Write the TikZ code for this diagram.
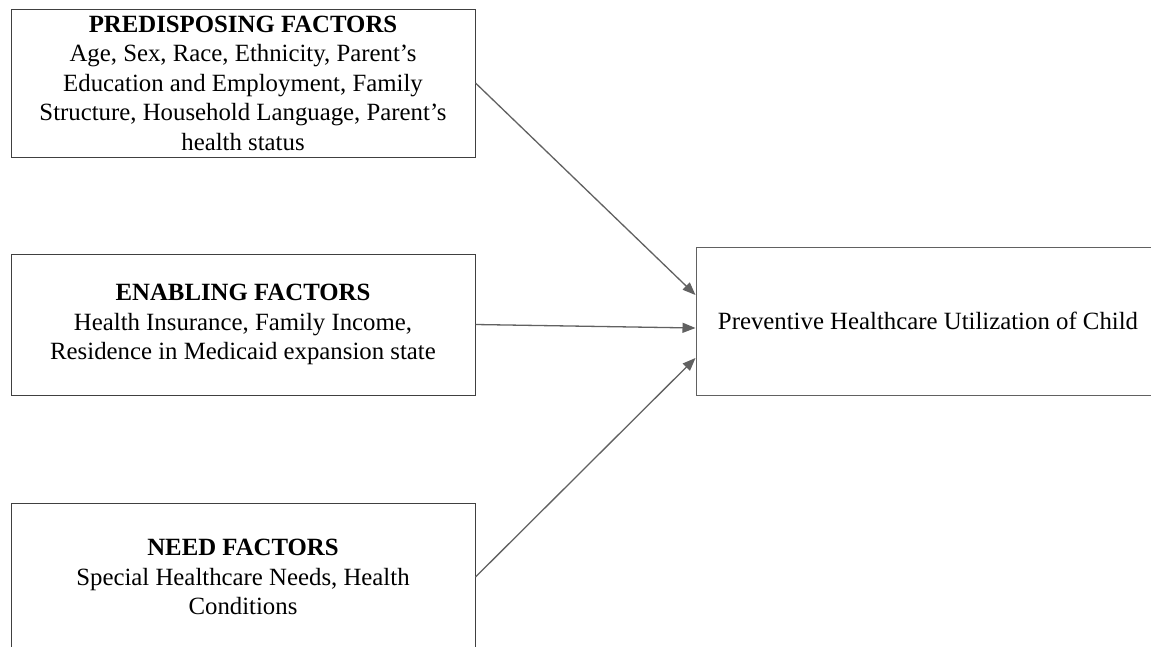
\documentclass[tikz,border=0pt]{standalone}
\usepackage{fontspec}
\setmainfont{Liberation Serif}
\usetikzlibrary{arrows.meta,calc}
\begin{document}
\begin{tikzpicture}[x=1pt,y=-1pt,
  box/.style={draw=black!75, line width=1pt, rectangle, align=center, inner sep=0pt,
    font=\fontsize{24.8}{29.5}\selectfont},
  link/.style={draw=black!62, line width=1.3pt, -{Triangle[length=13pt,width=10pt]}}]
\useasboundingbox[fill=white] (0,0) rectangle (1151,646);
\node[box, minimum width=464, minimum height=148] (pre) at (243,83)
  {\textbf{PREDISPOSING FACTORS}\\Age, Sex, Race, Ethnicity, Parent’s\\Education and Employment, Family\\Structure, Household Language, Parent’s\\health status};
\node[box, minimum width=464, minimum height=141] (ena) at (243,324.5)
  {\textbf{ENABLING FACTORS}\\Health Insurance, Family Income,\\Residence in Medicaid expansion state};
\node[box, minimum width=464, minimum height=148] (need) at (243,577)
  {\textbf{NEED FACTORS}\\Special Healthcare Needs, Health\\Conditions};
\node[box, draw=black!62, minimum width=464, minimum height=148] (out) at (928,321)
  {Preventive Healthcare Utilization of Child};
\draw[link] (pre.east) -- ($(out.west)+(0,-26)$);
\draw[link] (ena.east) -- ($(out.west)+(0,7)$);
\draw[link] (need.east) -- ($(out.west)+(0,37)$);
\end{tikzpicture}
\end{document}
